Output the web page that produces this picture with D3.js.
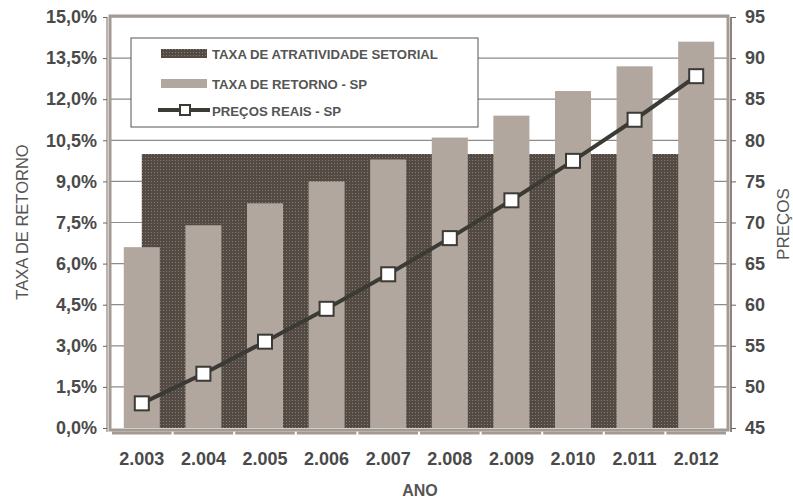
<!DOCTYPE html>
<html><head><meta charset="utf-8">
<script src="https://cdn.jsdelivr.net/npm/d3@7/dist/d3.min.js"></script>
<style>body{margin:0;background:#fff;} svg{display:block;font-family:"Liberation Sans",Arial,sans-serif;}</style>
</head><body>
<svg id="c" width="793" height="500"></svg>
<script>
const years = ["2.003","2.004","2.005","2.006","2.007","2.008","2.009","2.010","2.011","2.012"];
const taxaRetorno = [6.6, 7.4, 8.2, 9.0, 9.8, 10.6, 11.4, 12.3, 13.2, 14.1];
const taxaAtratividade = [10,10,10,10,10,10,10,10,10,10];
const precos = [48.0, 51.6, 55.5, 59.5, 63.7, 68.1, 72.7, 77.5, 82.5, 87.8];
const leftTicks = [0,1.5,3,4.5,6,7.5,9,10.5,12,13.5,15];
const rightTicks = [45,50,55,60,65,70,75,80,85,90,95];
const seriesNames = ["TAXA DE ATRATIVIDADE SETORIAL","TAXA DE RETORNO - SP","PREÇOS REAIS - SP"];

const svg = d3.select("#c");
const L = 111, R = 727, T = 17, B = 428;
const x = d3.scaleBand().domain(years).range([L, R]).paddingInner(0).paddingOuter(0);
const yL = d3.scaleLinear().domain([0, 15]).range([B, T]);
const yR = d3.scaleLinear().domain([45, 95]).range([B, T]);
const cx = d => x(d) + x.bandwidth() / 2;

const defs = svg.append("defs");
const pat = defs.append("pattern").attr("id", "pat").attr("width", 3).attr("height", 3).attr("patternUnits", "userSpaceOnUse");
pat.append("rect").attr("width", 3).attr("height", 3).attr("fill", "#524a43");
pat.append("rect").attr("x", 1).attr("y", 1).attr("width", 1).attr("height", 1).attr("fill", "#857c74");

// gridlines
svg.append("g").selectAll("line").data(leftTicks.slice(1)).join("line")
  .attr("x1", L).attr("x2", R).attr("y1", d => yL(d)).attr("y2", d => yL(d))
  .attr("stroke", "#8c8c8c").attr("stroke-width", 1.2);

// area (atratividade)
const area = d3.area().x((d, i) => cx(years[i])).y0(yL(0)).y1(d => yL(d));
svg.append("path").datum(taxaAtratividade).attr("d", area).attr("fill", "url(#pat)");

// bars
const bw = x.bandwidth() * 0.585;
svg.append("g").selectAll("rect").data(taxaRetorno).join("rect")
  .attr("x", (d, i) => cx(years[i]) - bw / 2).attr("width", bw)
  .attr("y", d => yL(d)).attr("height", d => yL(0) - yL(d))
  .attr("fill", "#b1a79f");

// line
const line = d3.line().x((d, i) => cx(years[i])).y(d => yR(d));
svg.append("path").datum(precos).attr("d", line).attr("fill", "none")
  .attr("stroke", "#3b3a35").attr("stroke-width", 4);
svg.append("g").selectAll("rect").data(precos).join("rect")
  .attr("x", (d, i) => cx(years[i]) - 7).attr("y", d => yR(d) - 7)
  .attr("width", 14).attr("height", 14).attr("fill", "#fff")
  .attr("stroke", "#3b3a35").attr("stroke-width", 2);

// plot frame
svg.append("rect").attr("x", L - 1).attr("y", T - 1).attr("width", R - L + 2).attr("height", B - T + 3)
  .attr("fill", "none").attr("stroke", "#a39a93").attr("stroke-width", 3);
svg.append("line").attr("x1", L - 4).attr("x2", L - 4).attr("y1", T).attr("y2", B + 4)
  .attr("stroke", "#a39a93").attr("stroke-width", 1.5);
svg.append("line").attr("x1", R + 4).attr("x2", R + 4).attr("y1", T).attr("y2", B + 4)
  .attr("stroke", "#8f857e").attr("stroke-width", 2);

// bottom axis line with gaps
svg.append("g").selectAll("line").data(years).join("line")
  .attr("x1", d => x(d) + 1).attr("x2", d => x(d) + x.bandwidth() - 1)
  .attr("y1", B + 5).attr("y2", B + 5).attr("stroke", "#a39a93").attr("stroke-width", 3);

// axes
const fmt = d => d.toFixed(1).replace(".", ",") + "%";
const gl = svg.append("g").attr("transform", `translate(${L - 4},0)`)
  .call(d3.axisLeft(yL).tickValues(leftTicks).tickFormat(fmt).tickSize(4).tickPadding(6));
const gr = svg.append("g").attr("transform", `translate(${R + 4},0)`)
  .call(d3.axisRight(yR).tickValues(rightTicks).tickSize(5).tickPadding(9));
const gb = svg.append("g").attr("transform", `translate(0,${B + 5})`)
  .call(d3.axisBottom(x).tickSize(0).tickPadding(19));
[gl, gr, gb].forEach(g => {
  g.select(".domain").remove();
  g.selectAll(".tick line").attr("stroke", "#666");
  g.selectAll("text").attr("font-size", 18).attr("font-weight", "bold").attr("fill", "#4a4a4a")
    .attr("font-family", "Liberation Sans, Arial, sans-serif");
});

// titles
svg.append("text").attr("transform", "translate(28,222) rotate(-90)").attr("text-anchor", "middle")
  .attr("font-size", 16.5).attr("fill", "#555").text("TAXA DE RETORNO");
svg.append("text").attr("transform", "translate(789,224) rotate(-90)").attr("text-anchor", "middle")
  .attr("font-size", 17).attr("fill", "#555").text("PREÇOS");
svg.append("text").attr("x", 420).attr("y", 496).attr("text-anchor", "middle")
  .attr("font-size", 16).attr("font-weight", "bold").attr("fill", "#555").text("ANO");

// legend
const lg = svg.append("g");
lg.append("rect").attr("x", 131).attr("y", 38).attr("width", 347).attr("height", 89)
  .attr("fill", "#fff").attr("stroke", "#555").attr("stroke-width", 1);
lg.append("rect").attr("x", 161).attr("y", 49).attr("width", 46).attr("height", 9).attr("fill", "url(#pat)");
lg.append("rect").attr("x", 161).attr("y", 79).attr("width", 46).attr("height", 9).attr("fill", "#b1a79f");
lg.append("line").attr("x1", 158).attr("x2", 210).attr("y1", 110).attr("y2", 110).attr("stroke", "#3b3a35").attr("stroke-width", 4);
lg.append("rect").attr("x", 180).attr("y", 105).attr("width", 10).attr("height", 10).attr("fill", "#fff").attr("stroke", "#3b3a35").attr("stroke-width", 2);
lg.selectAll("text.l").data(seriesNames).join("text").attr("class", "l")
  .attr("x", 212).attr("y", (d, i) => [54, 84, 111][i]).attr("dy", "0.35em")
  .attr("font-size", 13.2).attr("font-weight", "bold").attr("fill", "#555").text(d => d);
</script>
</body></html>
